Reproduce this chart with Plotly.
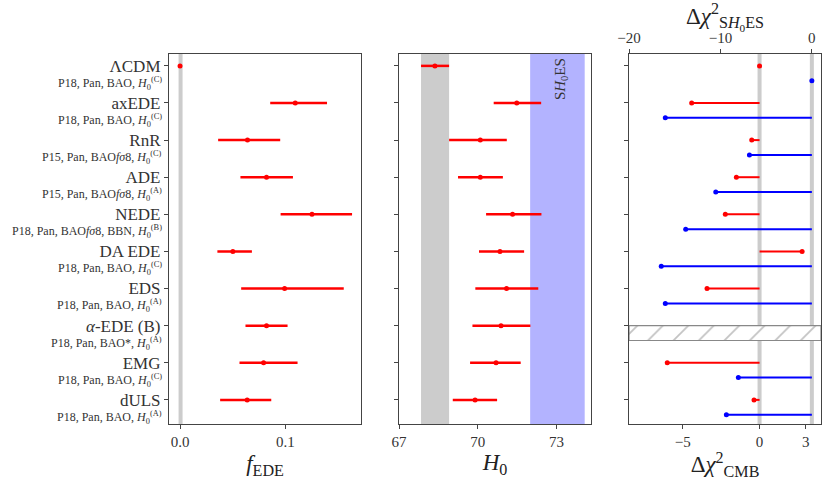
import plotly.graph_objects as go

# model names and the data combinations shown under them
models = ['ΛCDM', 'axEDE', 'RnR', 'ADE', 'NEDE', 'DA EDE', 'EDS',
          '<i>α</i>-EDE (B)', 'EMG', 'dULS']
datasets = [
    'P18, Pan, BAO, <i>H</i><sub>0</sub><sup>(C)</sup>',
    'P18, Pan, BAO, <i>H</i><sub>0</sub><sup>(C)</sup>',
    'P15, Pan, BAO<i>fσ</i>8, <i>H</i><sub>0</sub><sup>(C)</sup>',
    'P15, Pan, BAO<i>fσ</i>8, <i>H</i><sub>0</sub><sup>(A)</sup>',
    'P18, Pan, BAO<i>fσ</i>8, BBN, <i>H</i><sub>0</sub><sup>(B)</sup>',
    'P18, Pan, BAO, <i>H</i><sub>0</sub><sup>(C)</sup>',
    'P18, Pan, BAO, <i>H</i><sub>0</sub><sup>(A)</sup>',
    'P18, Pan, BAO*, <i>H</i><sub>0</sub><sup>(A)</sup>',
    'P18, Pan, BAO, <i>H</i><sub>0</sub><sup>(C)</sup>',
    'P18, Pan, BAO, <i>H</i><sub>0</sub><sup>(A)</sup>',
]
rows = list(range(len(models)))

# f_EDE: best value with lower / upper ends of the interval
f_ede = [0.0, 0.1095, 0.0641, 0.0822, 0.1254, 0.0502, 0.0994, 0.0822, 0.0794, 0.0638]
f_lo = [0.0, 0.0857, 0.0362, 0.0574, 0.0956, 0.0355, 0.0581, 0.0622, 0.0565, 0.0381]
f_hi = [0.0, 0.1397, 0.0952, 0.1073, 0.1635, 0.0683, 0.1556, 0.1022, 0.1117, 0.0867]

# H0
h0 = [68.37, 71.49, 70.10, 70.10, 71.33, 70.85, 71.10, 70.89, 70.70, 69.90]
h0_lo = [67.84, 70.61, 68.91, 69.25, 70.32, 70.05, 69.91, 69.80, 69.71, 69.05]
h0_hi = [68.91, 72.42, 71.11, 70.96, 72.43, 71.77, 72.31, 72.01, 71.64, 70.74]

# delta chi^2 (None where not available)
dchi2_cmb = [0.0, -4.42, -0.51, -1.51, -2.23, 2.77, -3.42, None, -6.01, -0.36]
dchi2_shoes = [0.0, -16.03, -6.83, -10.51, -13.80, -16.47, -16.03, None, -8.04, -9.35]

planck_band = [67.84, 68.91]
shoes_band = [72.0, 74.08]

RED = '#ff0000'
BLUE = '#0000ff'
BAND = '#cccccc'
FONT = 'Liberation Serif'
W, H = 830, 480

fig = go.Figure()

# panel 1: f_EDE
fig.add_trace(go.Scatter(
    x=f_ede, y=rows, mode='markers', xaxis='x', yaxis='y',
    marker=dict(color=RED, size=5),
    error_x=dict(type='data', symmetric=False,
                 array=[h - c for h, c in zip(f_hi, f_ede)],
                 arrayminus=[c - l for c, l in zip(f_ede, f_lo)],
                 color=RED, thickness=2.5, width=0),
    showlegend=False))

# panel 2: H0
fig.add_trace(go.Scatter(
    x=h0, y=rows, mode='markers', xaxis='x2', yaxis='y2',
    marker=dict(color=RED, size=5),
    error_x=dict(type='data', symmetric=False,
                 array=[h - c for h, c in zip(h0_hi, h0)],
                 arrayminus=[c - l for c, l in zip(h0, h0_lo)],
                 color=RED, thickness=2.5, width=0),
    showlegend=False))

# panel 3: delta chi^2 lines
off = 0.4
rx, ry, bx, by = [], [], [], []
mrx, mry, mbx, mby = [], [], [], []
for i in rows:
    if dchi2_cmb[i] is not None:
        rx += [0, dchi2_cmb[i], None]
        ry += [i, i, None]
        mrx.append(dchi2_cmb[i])
        mry.append(i)
    if dchi2_shoes[i] is not None:
        bx += [0, dchi2_shoes[i], None]
        by += [i + off, i + off, None]
        mbx.append(dchi2_shoes[i])
        mby.append(i + off)

fig.add_trace(go.Scatter(x=rx, y=ry, mode='lines', xaxis='x3', yaxis='y3',
                         line=dict(color=RED, width=2), showlegend=False))
fig.add_trace(go.Scatter(x=mrx, y=mry, mode='markers', xaxis='x3', yaxis='y3',
                         marker=dict(color=RED, size=5), showlegend=False))
fig.add_trace(go.Scatter(x=bx, y=by, mode='lines', xaxis='x4', yaxis='y3',
                         line=dict(color=BLUE, width=2), showlegend=False))
fig.add_trace(go.Scatter(x=mbx, y=mby, mode='markers', xaxis='x4', yaxis='y3',
                         marker=dict(color=BLUE, size=5), showlegend=False))

# hatched band for the model without chi^2 values
fig.add_trace(go.Scatter(
    x=[-8.5, 4, 4, -8.5, -8.5], y=[7, 7, 7 + off, 7 + off, 7],
    mode='lines', fill='toself', xaxis='x3', yaxis='y3',
    line=dict(color='#888888', width=1.2),
    fillcolor='rgba(0,0,0,0)',
    fillpattern=dict(shape='/', fgcolor='#888888', bgcolor='white',
                     size=18, solidity=0.1),
    showlegend=False, hoverinfo='skip'))

shapes = [
    dict(type='line', xref='x', yref='y domain', x0=0.0005, x1=0.0005, y0=0, y1=1,
         line=dict(color=BAND, width=4), layer='below'),
    dict(type='rect', xref='x2', yref='y2 domain', x0=planck_band[0], x1=planck_band[1],
         y0=0, y1=1, fillcolor=BAND, line=dict(width=0), layer='below'),
    dict(type='rect', xref='x2', yref='y2 domain', x0=shoes_band[0], x1=shoes_band[1],
         y0=0, y1=1, fillcolor='#b3b3ff', line=dict(width=0), layer='below'),
    dict(type='line', xref='x3', yref='y3 domain', x0=0, x1=0, y0=0, y1=1,
         line=dict(color=BAND, width=4), layer='below'),
    dict(type='line', xref='x4', yref='y3 domain', x0=0, x1=0, y0=0, y1=1,
         line=dict(color=BAND, width=4), layer='below'),
]

annotations = []
for i, d in enumerate(datasets):
    annotations.append(dict(
        text=d, xref='paper', yref='y', x=164 / W, y=i + 0.47,
        xanchor='right', yanchor='middle', showarrow=False,
        font=dict(family=FONT, size=12, color='#333333')))
annotations.append(dict(
    text='S<i>H</i><sub>0</sub>ES', xref='x2', yref='paper', x=73.18, y=1 - 56 / H,
    xanchor='center', yanchor='top', textangle=-90, showarrow=False,
    font=dict(family=FONT, size=15, color='#333333')))

ax_common = dict(showline=True, linecolor='#444444', linewidth=1.2, mirror=True,
                 ticks='outside', ticklen=4, tickcolor='#444444', showgrid=False,
                 zeroline=False, automargin=False,
                 tickfont=dict(family=FONT, size=15, color='#333333'),
                 title_font=dict(family=FONT, size=23, color='#222222'))
y_range = [9.65, -0.32]
ydom = [1 - 424 / H, 1 - 54 / H]

fig.update_layout(
    width=W, height=H,
    margin=dict(l=0, r=0, t=0, b=0),
    plot_bgcolor='white', paper_bgcolor='white',
    shapes=shapes, annotations=annotations,
    xaxis=dict(ax_common, domain=[169 / W, 361 / W], range=[-0.0105, 0.172],
               tickvals=[0.0, 0.1], ticktext=['0.0', '0.1'],
               title=dict(text='<i>f</i><sub>EDE</sub>', standoff=5)),
    yaxis=dict(ax_common, domain=ydom, range=y_range, tickvals=rows,
               ticktext=models, tickfont=dict(family=FONT, size=17, color='#333333')),
    xaxis2=dict(ax_common, domain=[399 / W, 591 / W], range=[67, 74.32],
                tickvals=[67, 70, 73], anchor='y2',
                title=dict(text='<i>H</i><sub>0</sub>', standoff=4)),
    yaxis2=dict(ax_common, domain=ydom, range=y_range, tickvals=rows,
                showticklabels=False, anchor='x2'),
    xaxis3=dict(ax_common, domain=[629 / W, 821 / W], range=[-8.5, 4], anchor='y3',
                mirror=False, tickvals=[-5, 0, 3], ticktext=['−5', '0', '3'],
                title=dict(text='Δ<i>χ</i><sup>2</sup><sub>CMB</sub>', standoff=5)),
    xaxis4=dict(ax_common, range=[-20, 1], overlaying='x3', side='top', anchor='y3',
                mirror=False, tickvals=[-20, -10, 0], ticktext=['−20', '−10', '0'],
                title=dict(text='Δ<i>χ</i><sup>2</sup><sub>S<i>H</i><sub>0</sub>ES</sub>',
                           standoff=4)),
    yaxis3=dict(ax_common, domain=ydom, range=y_range, tickvals=rows,
                showticklabels=False, anchor='x3'),
)

# drop the page margin so the figure sits at the window's top-left corner
fig.write_html('out.html', config={'displayModeBar': False},
               post_script="document.body.style.margin='0';")
